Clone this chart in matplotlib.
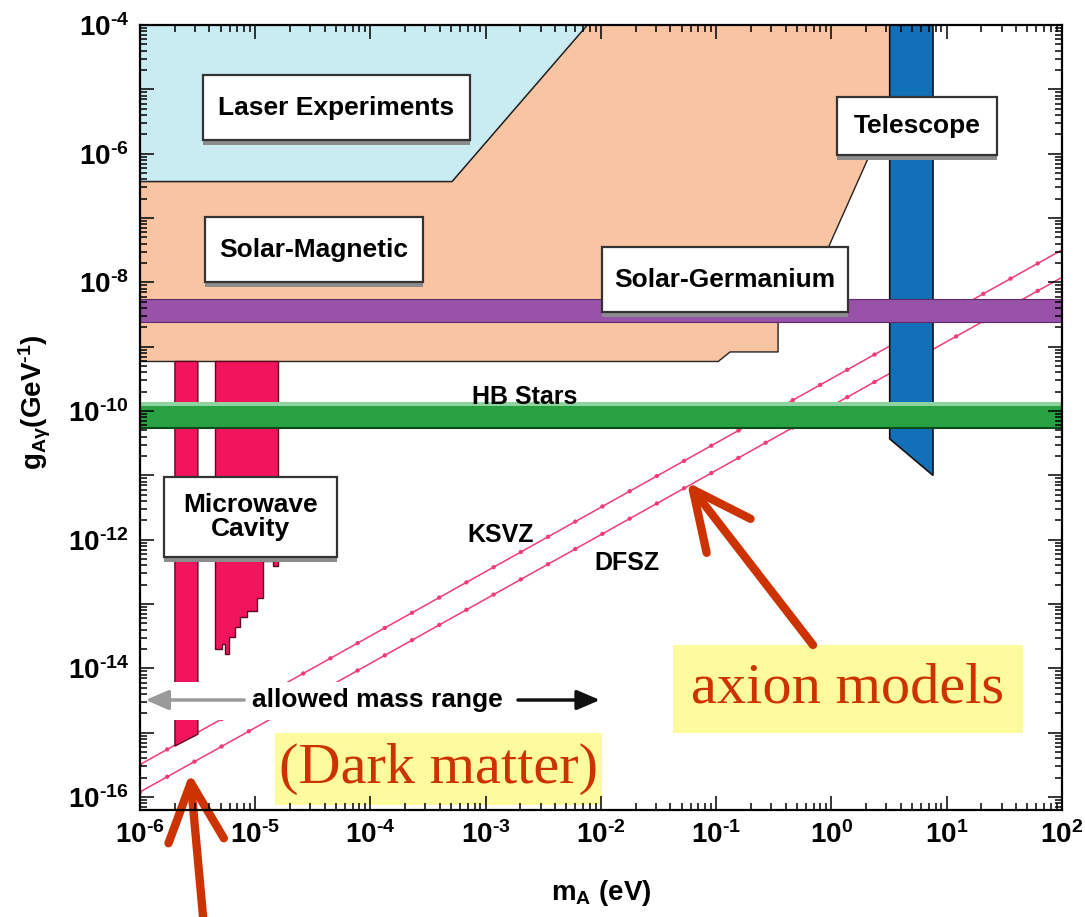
import matplotlib
matplotlib.use('Agg')
import matplotlib.pyplot as plt
from matplotlib.patches import Polygon, Rectangle
from matplotlib.ticker import FixedLocator, FuncFormatter, NullFormatter
import numpy as np

plt.rcParams['font.family'] = ['Liberation Sans', 'DejaVu Sans']
plt.rcParams['font.weight'] = 'bold'
plt.rcParams['mathtext.fontset'] = 'custom'
plt.rcParams['mathtext.rm'] = 'Liberation Sans:bold'
plt.rcParams['mathtext.it'] = 'Liberation Sans:bold'
plt.rcParams['mathtext.bf'] = 'Liberation Sans:bold'
plt.rcParams['mathtext.sf'] = 'Liberation Sans:bold'

# axion mass (eV) / photon coupling (GeV^-1) exclusion regions
laser_m = [1e-6, 1e-6, 5.1e-4, 7.6e-3]
laser_g = [1e-4, 3.7e-7, 3.7e-7, 1e-4]

solar_mag_m = [1e-6, 5.1e-4, 7.6e-3, 3.2, 3.2, 1.0, 0.50, 0.344, 0.344, 0.132, 0.104, 1e-6]
solar_mag_g = [3.7e-7, 3.7e-7, 1e-4, 1e-4, 4.8e-6, 4.5e-8, 2.4e-9, 2.4e-9, 8.3e-10, 8.3e-10, 5.9e-10, 5.9e-10]

telescope_m = [3.2, 7.6, 7.6, 3.2]
telescope_g = [1e-4, 1e-4, 1.0e-11, 3.7e-11]

solar_ge_g = (2.4e-9, 5.5e-9)
hb_stars_g = (5.5e-11, 1.29e-10)

cavity1_m = [2.01e-6, 3.18e-6, 3.18e-6, 2.01e-6]
cavity1_g = [5.9e-10, 5.9e-10, 9.5e-16, 6.2e-16]

cavity2_m = [4.48e-6, 1.58e-5, 1.58e-5, 1.44e-5, 1.44e-5, 1.17e-5, 1.17e-5,
             1.03e-5, 1.03e-5, 8.43e-6, 8.43e-6, 7.38e-6, 7.38e-6, 6.67e-6,
             6.67e-6, 5.96e-6, 5.96e-6, 5.47e-6, 5.47e-6, 5.12e-6, 5.12e-6, 4.48e-6]
cavity2_g = [5.9e-10, 5.9e-10, 3.9e-13, 3.9e-13, 4.6e-13, 4.6e-13, 1.26e-13,
             1.26e-13, 7.9e-14, 7.9e-14, 6.3e-14, 6.3e-14, 4.4e-14, 4.4e-14,
             3.1e-14, 3.1e-14, 1.7e-14, 1.7e-14, 2.4e-14, 2.4e-14, 2.0e-14, 2.0e-14]

# model lines
ksvz_m = [1e-6, 1e2]
ksvz_g = [3.2e-16, 3.2e-8]
dfsz_m = [1e-6, 1e2]
dfsz_g = [1.2e-16, 1.2e-8]

fig = plt.figure(figsize=(10.85, 9.17), dpi=100)
ax = fig.add_axes([0.1290, 0.1167, 0.8498, 0.8560])
ax.set_xscale('log')
ax.set_yscale('log')
ax.set_xlim(1e-6, 1e2)
ax.set_ylim(10**-16.2, 1e-4)

def region(m, g, fc, z, ec='#222222', lw=1.0):
    ax.add_patch(Polygon(np.column_stack([m, g]), closed=True, fc=fc, ec=ec, lw=lw, zorder=z))

region(solar_mag_m, solar_mag_g, '#F9C4A2', 1)
region(laser_m, laser_g, '#C9EBF2', 1)

for m, g in [(ksvz_m, ksvz_g), (dfsz_m, dfsz_g)]:
    ax.plot(m, g, color='#F03C76', lw=1.1, zorder=2)
    ax.plot(m, g, color='#F03C76', lw=3.2, ls=(0, (0.01, 7)),
            dash_capstyle='round', zorder=2)

region(cavity1_m, cavity1_g, '#F2145C', 3, ec='#5a0a20')
region(cavity2_m, cavity2_g, '#F2145C', 3, ec='#5a0a20')
region(telescope_m, telescope_g, '#1170B8', 4, ec='#111111', lw=1.2)

# horizontal bands
ax.axhspan(*solar_ge_g, fc='#9852A8', ec='#5e2a6a', lw=0.8, zorder=5)
ax.axhspan(*hb_stars_g, fc='#28A142', ec='none', zorder=5)
ax.axhline(hb_stars_g[0], color='#0d4a1c', lw=1.5, zorder=5)
ax.axhspan(hb_stars_g[1] * 0.93, hb_stars_g[1] * 1.06, fc='#8fd3a0', ec='none', zorder=5)

# labelled boxes (axes fraction)
def label_box(x0, x1, y0, y1, text, ls=1.0):
    ax.add_patch(Rectangle((x0, y0 - 0.006), x1 - x0, y1 - y0, transform=ax.transAxes,
                           fc='#8c8c8c', ec='none', zorder=6))
    ax.add_patch(Rectangle((x0, y0), x1 - x0, y1 - y0, transform=ax.transAxes,
                           fc='white', ec='#333333', lw=1.6, zorder=6))
    ax.text((x0 + x1) / 2, (y0 + y1) / 2, text, transform=ax.transAxes, ha='center',
            va='center', fontsize=19, fontweight='bold', linespacing=ls, zorder=7)

label_box(0.0683, 0.3579, 0.8535, 0.9363, 'Laser Experiments')
label_box(0.0705, 0.3069, 0.6726, 0.7554, 'Solar-Magnetic')
label_box(0.5011, 0.7679, 0.6344, 0.7172, 'Solar-Germanium')
label_box(0.7560, 0.9295, 0.8344, 0.9083, 'Telescope')
label_box(0.0260, 0.2137, 0.3223, 0.4242, 'Microwave\nCavity', ls=0.95)

ax.text(0.4176, 0.5255, 'HB Stars', transform=ax.transAxes, ha='center', va='center',
        fontsize=18, fontweight='bold', zorder=7)
ax.text(0.3915, 0.3503, 'KSVZ', transform=ax.transAxes, ha='center', va='center',
        fontsize=18, fontweight='bold', zorder=7)
ax.text(0.5282, 0.3146, 'DFSZ', transform=ax.transAxes, ha='center', va='center',
        fontsize=18, fontweight='bold', zorder=7)

# allowed mass range strip
ax.add_patch(Rectangle((0.0033, 0.1146), 0.502, 0.0485, transform=ax.transAxes,
                       fc='white', ec='none', zorder=6))
ax.text(0.2570, 0.1401, 'allowed mass range', transform=ax.transAxes, ha='center',
        va='center', fontsize=19, fontweight='bold', zorder=7)
ax.annotate('', xy=(0.006, 0.1401), xytext=(0.113, 0.1401), xycoords='axes fraction',
            arrowprops=dict(arrowstyle='-|>,head_length=0.7,head_width=0.3', color='#9a9a9a',
                            lw=2.5, mutation_scale=20, shrinkA=0, shrinkB=0), zorder=7)
ax.annotate('', xy=(0.4989, 0.1401), xytext=(0.410, 0.1401), xycoords='axes fraction',
            arrowprops=dict(arrowstyle='-|>,head_length=0.7,head_width=0.3', color='#111111',
                            lw=2.5, mutation_scale=20, shrinkA=0, shrinkB=0), zorder=7)

# highlighted notes
def note(x0, x1, y0, y1, text):
    ax.add_patch(Rectangle((x0, y0), x1 - x0, y1 - y0, transform=ax.transAxes,
                           fc='#FEFA9E', ec='none', zorder=8))
    ax.text((x0 + x1) / 2, (y0 + y1) / 2, text, transform=ax.transAxes, ha='center',
            va='center', fontsize=42, family='Liberation Serif', fontweight='normal',
            color='#CC3300', zorder=9)

note(0.1464, 0.5011, 0.0064, 0.0981, '(Dark matter)')
note(0.5781, 0.9577, 0.0981, 0.2102, 'axion models')

red_arrow = dict(arrowstyle='->,head_length=4.2,head_width=2.0', color='#CC3300', lw=6,
                 mutation_scale=10, shrinkA=0, shrinkB=0)
ax.annotate('', xy=(687, 435), xytext=(813, 272), xycoords='figure pixels',
            textcoords='figure pixels', arrowprops=red_arrow, annotation_clip=False, zorder=10)
ax.annotate('', xy=(190, 144), xytext=(204, -10), xycoords='figure pixels',
            textcoords='figure pixels', arrowprops=red_arrow, annotation_clip=False, zorder=10)

# ticks: every decade, y labels on even exponents only
def pow_label(v, p, every=1):
    e = round(np.log10(v))
    if e % every:
        return ''
    return r'$10^{\text{%d}}$' % e

xmaj = [10.0**e for e in range(-6, 3)]
ymaj = [10.0**e for e in range(-17, -3)]
ax.xaxis.set_major_locator(FixedLocator(xmaj))
ax.xaxis.set_minor_locator(FixedLocator([k * 10.0**e for e in range(-6, 2) for k in range(2, 10)]))
ax.yaxis.set_major_locator(FixedLocator(ymaj))
ax.yaxis.set_minor_locator(FixedLocator([k * 10.0**e for e in range(-17, -4) for k in range(2, 10)]))
ax.xaxis.set_major_formatter(FuncFormatter(lambda v, p: pow_label(v, p)))
ax.yaxis.set_major_formatter(FuncFormatter(lambda v, p: pow_label(v, p, 2)))
ax.xaxis.set_minor_formatter(NullFormatter())
ax.yaxis.set_minor_formatter(NullFormatter())
ax.tick_params(which='both', direction='in', top=True, right=True, width=1.1,
               labelsize=20, pad=8)
ax.tick_params(which='major', length=10)
ax.tick_params(which='minor', length=5)
ax.xaxis.set_zorder(20)
ax.yaxis.set_zorder(20)
for s in ax.spines.values():
    s.set_linewidth(1.6)
    s.set_zorder(20)

fig.text(0.554, 0.026, r'm$_A$ (eV)', ha='center', va='center', fontsize=20, fontweight='bold')
fig.text(0.032, 0.5616, r'g$_{A\gamma}$(GeV$^{\text{-1}}$)', ha='center', va='center',
         rotation=90, fontsize=20, fontweight='bold')

fig.savefig('out.png', dpi=100)
